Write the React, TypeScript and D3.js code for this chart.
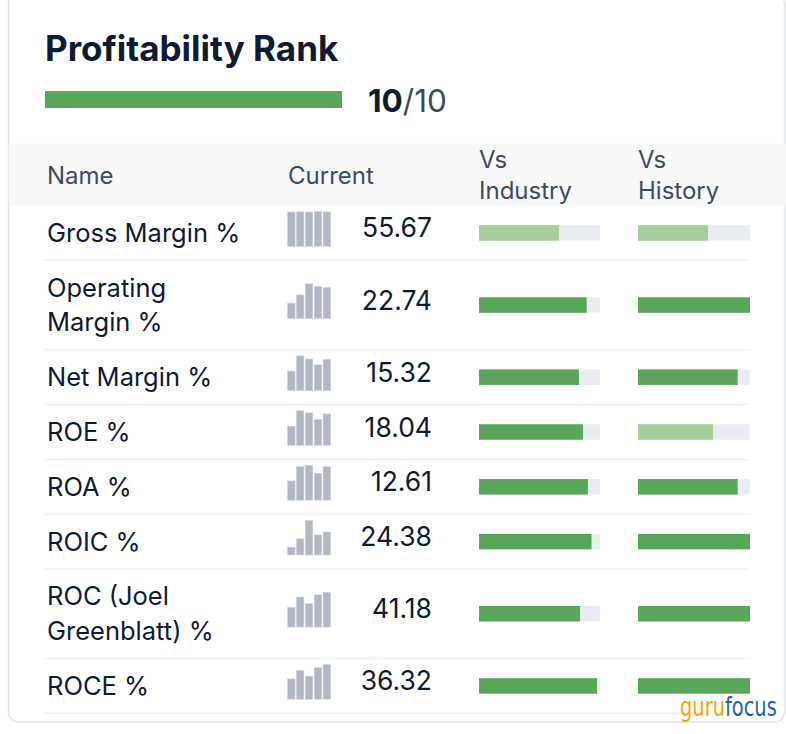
import React from "react";
import * as d3 from "d3";

const W = 786;
const H = 734;

const rankValue = 10;
const rankMax = 10;

const headers = ["Name", "Current", "Vs|Industry", "Vs|History"];

const names = [
  ["Gross Margin %"],
  ["Operating", "Margin %"],
  ["Net Margin %"],
  ["ROE %"],
  ["ROA %"],
  ["ROIC %"],
  ["ROC (Joel", "Greenblatt) %"],
  ["ROCE %"],
];

const currents = [55.67, 22.74, 15.32, 18.04, 12.61, 24.38, 41.18, 36.32];

const sparkHistory = [
  [55.5, 55.8, 55.4, 56.1, 55.67],
  [11.2, 17.3, 25.5, 23.5, 22.74],
  [9.6, 17.1, 15.6, 12.7, 15.32],
  [10.9, 19.8, 18.6, 14.7, 18.04],
  [7.2, 12.6, 13.0, 10.1, 12.61],
  [8.2, 17.2, 36.8, 21.3, 24.38],
  [23.5, 35.7, 27.8, 38.4, 41.18],
  [21.4, 30.1, 24.2, 33.2, 36.32],
];

const vsIndustry = [0.66, 0.89, 0.826, 0.86, 0.9, 0.93, 0.835, 0.975];
const vsHistory = [0.625, 1, 0.89, 0.67, 0.89, 1, 1, 1];

const logoParts = ["guru", "focus"];

const GREEN = "#59a65b";
const LIGHT_GREEN = "#a6ce9b";
const TRACK = "#e9edf2";
const NAVY = "#0f1a33";
const SLATE = "#3d4a5e";
const FONT = "Inter, 'Noto Sans', sans-serif";

export default function App() {
  const tableTop = 205.5;
  const singleH = 54.8;
  const doubleH = 89.5;
  const rowTops: number[] = [];
  let y = tableTop;
  names.forEach((n) => {
    rowTops.push(y);
    y += n.length > 1 ? doubleH : singleH;
  });
  const rowBottoms = names.map((n, i) => rowTops[i] + (n.length > 1 ? doubleH : singleH));

  const rankScale = d3.scaleLinear().domain([0, rankMax]).range([45, 342]);
  const indScale = d3.scaleLinear().domain([0, 1]).range([479, 600]);
  const histScale = d3.scaleLinear().domain([0, 1]).range([638, 750]);
  const sparkX = d3
    .scaleBand<number>()
    .domain([0, 1, 2, 3, 4])
    .range([287.7, 330.5])
    .paddingInner(0.17);

  const headSize = 24;
  const nameSize = 25.5;

  return (
    <svg
      width={W}
      height={H}
      style={{ position: "absolute", left: 0, top: 0, background: "#fff" }}
      fontFamily={FONT}
    >
      <rect x={8.5} y={-6} width={776} height={728} rx={10} fill="#fff" stroke="#e3e7ec" strokeWidth={1.5} />
      <text x={45} y={61} fontSize={35} fontWeight={700} fill={NAVY}>
        Profitability Rank
      </text>
      <rect x={rankScale(0)} y={91} width={rankScale(rankValue) - rankScale(0)} height={17} fill={GREEN} />
      <text x={368} y={112} fontSize={31.5} fill={SLATE}>
        <tspan fontWeight={700} fill={NAVY}>{rankValue}</tspan>
        <tspan>/{rankMax}</tspan>
      </text>

      <rect x={9.3} y={143.5} width={775.5} height={62} fill="#f8f8f9" />
      <text x={47} y={183.5} fontSize={headSize} fill={SLATE}>{headers[0]}</text>
      <text x={288} y={183.5} fontSize={headSize} fill={SLATE}>{headers[1]}</text>
      {[headers[2], headers[3]].map((h, k) => {
        const [a, b] = h.split("|");
        const x = k === 0 ? 479 : 638;
        return (
          <g key={h}>
            <text x={x} y={167.5} fontSize={headSize} fill={SLATE}>{a}</text>
            <text x={x} y={198.5} fontSize={headSize} fill={SLATE}>{b}</text>
          </g>
        );
      })}

      {names.map((n, i) => {
        const top = rowTops[i];
        const bottom = rowBottoms[i];
        const cy = (top + bottom) / 2;
        const sparkBottom = cy + 13.3;
        const hs = sparkHistory[i];
        const hScale = d3.scaleLinear().domain([0, d3.max(hs) as number]).range([0, 34.5]);
        const barH = 15.5;
        return (
          <g key={i}>
            <line x1={44} x2={750} y1={bottom} y2={bottom} stroke="#f1f2f4" strokeWidth={1.5} />
            {n.length === 1 ? (
              <text x={47} y={cy + 9} fontSize={nameSize} fill={NAVY}>{n[0]}</text>
            ) : (
              <>
                <text x={47} y={cy - 8.5} fontSize={nameSize} fill={NAVY}>{n[0]}</text>
                <text x={47} y={cy + 26} fontSize={nameSize} fill={NAVY}>{n[1]}</text>
              </>
            )}
            {hs.map((v, j) => (
              <rect
                key={j}
                x={sparkX(j)}
                y={sparkBottom - hScale(v)}
                width={sparkX.bandwidth()}
                height={hScale(v)}
                fill="#b1b7c3"
                stroke="#c9ced7"
                strokeWidth={0.6}
              />
            ))}
            <text x={432} y={cy + 4.5} fontSize={26.5} textAnchor="end" fill={NAVY}>
              {currents[i].toFixed(2)}
            </text>
            <rect x={indScale(0)} y={cy - barH / 2} width={indScale(1) - indScale(0)} height={barH} fill={TRACK} />
            <rect
              x={indScale(0)}
              y={cy - barH / 2}
              width={indScale(vsIndustry[i]) - indScale(0)}
              height={barH}
              fill={vsIndustry[i] < 0.7 ? LIGHT_GREEN : GREEN}
            />
            <rect x={histScale(0)} y={cy - barH / 2} width={histScale(1) - histScale(0)} height={barH} fill={TRACK} />
            <rect
              x={histScale(0)}
              y={cy - barH / 2}
              width={histScale(vsHistory[i]) - histScale(0)}
              height={barH}
              fill={vsHistory[i] < 0.7 ? LIGHT_GREEN : GREEN}
            />
          </g>
        );
      })}

      <g transform="translate(680,716) scale(0.72,1)">
        <text x={0} y={0} fontSize={27} fontFamily="'DejaVu Sans', sans-serif">
          <tspan fill="#f5a800">{logoParts[0]}</tspan>
          <tspan fill="#1f5fa8">{logoParts[1]}</tspan>
        </text>
      </g>
    </svg>
  );
}
